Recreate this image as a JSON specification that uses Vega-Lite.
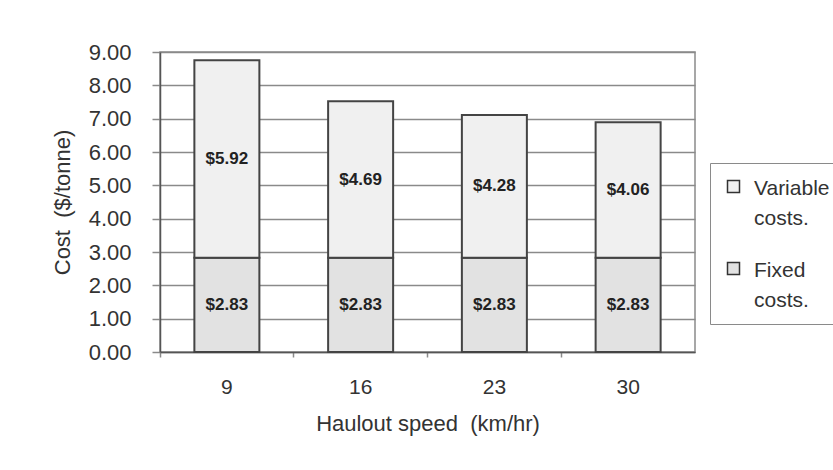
{
  "$schema": "https://vega.github.io/schema/vega-lite/v6.json",
  "width": 535,
  "height": 300,
  "autosize": "none",
  "padding": {"left": 160, "top": 52, "right": 138, "bottom": 118},
  "background": "white",
  "config": {
    "font": "Liberation Sans",
    "view": {"stroke": "#8a8a8a", "strokeWidth": 1.5},
    "axis": {"labelFont": "Liberation Sans", "titleFont": "Liberation Sans", "labelColor": "#333", "titleColor": "#333", "titleFontWeight": "normal"}
  },
  "data": {
    "values": [
      {"speed": "9", "cost": "Fixed costs.", "value": 2.83},
      {"speed": "9", "cost": "Variable costs.", "value": 5.92},
      {"speed": "16", "cost": "Fixed costs.", "value": 2.83},
      {"speed": "16", "cost": "Variable costs.", "value": 4.69},
      {"speed": "23", "cost": "Fixed costs.", "value": 2.83},
      {"speed": "23", "cost": "Variable costs.", "value": 4.28},
      {"speed": "30", "cost": "Fixed costs.", "value": 2.83},
      {"speed": "30", "cost": "Variable costs.", "value": 4.06}
    ]
  },
  "transform": [
    {"stack": "value", "groupby": ["speed"], "sort": [{"field": "cost", "order": "ascending"}], "as": ["v0", "v1"]},
    {"calculate": "(datum.v0 + datum.v1) / 2", "as": "mid"}
  ],
  "encoding": {
    "x": {
      "field": "speed", "type": "ordinal", "sort": ["9", "16", "23", "30"],
      "scale": {"paddingInner": 0, "paddingOuter": 0},
      "axis": {"title": "Haulout speed\u00a0\u00a0(km/hr)", "labelAngle": 0, "bandPosition": 0, "tickSize": 5, "tickColor": "#8a8a8a", "tickWidth": 1.5, "domainColor": "#555", "domainWidth": 1.5, "labelFontSize": 21, "labelPadding": 19, "titleFontSize": 22, "titlePadding": 16, "grid": false}
    }
  },
  "layer": [
    {
      "mark": {"type": "bar", "width": 65, "stroke": "#444", "strokeWidth": 2},
      "encoding": {
        "y": {
          "field": "v0", "type": "quantitative",
          "scale": {"domain": [0, 9], "nice": false},
          "axis": {"title": "Cost\u00a0\u00a0($/tonne)", "values": [0, 1, 2, 3, 4, 5, 6, 7, 8, 9], "format": ".2f", "labelOverlap": false, "labelFlush": false, "labelBound": false, "tickSize": 8, "tickColor": "#8a8a8a", "tickWidth": 1.5, "gridColor": "#8a8a8a", "gridWidth": 1.5, "domainColor": "#555", "domainWidth": 1.5, "labelFontSize": 22, "labelPadding": 21, "titleFontSize": 22, "titlePadding": 14}
        },
        "y2": {"field": "v1"},
        "fill": {
          "field": "cost", "type": "nominal",
          "scale": {"domain": ["Variable costs.", "Fixed costs."], "range": ["#f0f0f0", "#e2e2e2"]},
          "legend": {
            "title": null, "orient": "none", "legendX": 550, "legendY": 111, "padding": 13,
            "strokeColor": "#8a8a8a", "fillColor": "white",
            "symbolType": "square", "symbolSize": 144, "symbolStrokeColor": "#333", "symbolStrokeWidth": 1.5,
            "labelFontSize": 21, "labelFont": "Liberation Sans", "labelColor": "#333", "labelOffset": 10,
            "labelExpr": "split(datum.label, ' ')", "rowPadding": 29, "labelBaseline": "top",
            "encode": {"labels": {"update": {"lineHeight": {"value": 30}, "dy": {"value": -9}}}}
          }
        }
      }
    },
    {
      "mark": {"type": "text", "fontSize": 17, "fontWeight": "bold", "color": "#222"},
      "encoding": {
        "y": {
          "field": "mid", "type": "quantitative",
          "axis": {"title": "Cost\u00a0\u00a0($/tonne)", "values": [0, 1, 2, 3, 4, 5, 6, 7, 8, 9], "format": ".2f", "labelOverlap": false, "labelFlush": false, "labelBound": false, "tickSize": 8, "tickColor": "#8a8a8a", "tickWidth": 1.5, "gridColor": "#8a8a8a", "gridWidth": 1.5, "domainColor": "#555", "domainWidth": 1.5, "labelFontSize": 22, "labelPadding": 21, "titleFontSize": 22, "titlePadding": 14}
        },
        "text": {"field": "value", "type": "quantitative", "format": "$.2f"}
      }
    }
  ]
}
